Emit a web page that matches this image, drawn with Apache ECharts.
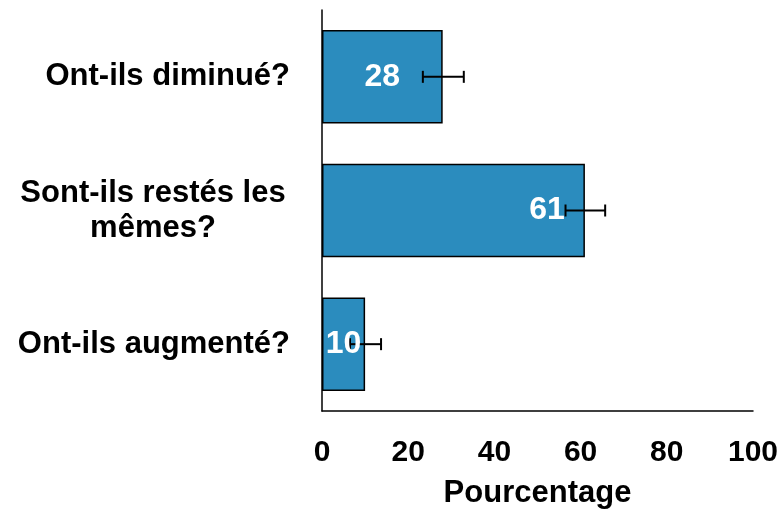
<!DOCTYPE html>
<html>
<head>
<meta charset="utf-8">
<script src="https://cdn.jsdelivr.net/npm/echarts@6/dist/echarts.min.js"></script>
<style>
  html, body { margin: 0; padding: 0; background: #fff; }
  #chart { width: 782px; height: 512px; }
</style>
</head>
<body>
<div id="chart"></div>
<script>
// categories (top to bottom)
var categories = ['Ont-ils diminué?', 'Sont-ils restés les\nmêmes?', 'Ont-ils augmenté?'];
// percentages
var values = [28, 61, 10];
// error bar ends
var errLow = [23.4, 56.5, 6.5];
var errHigh = [32.9, 65.7, 13.7];
// x tick values
var xTicks = [0, 20, 40, 60, 80, 100];

var font = '"Liberation Sans", Arial, sans-serif';
var barColor = '#2b8cbe';

var chart = echarts.init(document.getElementById('chart'));

var errData = categories.map(function (c, i) {
    return [i, errLow[i], errHigh[i]];
});

// labels: big bars get the label pushed to the right side
var labelData = values.map(function (v) {
    if (v > 50) {
        return { value: v, label: { position: 'insideRight', distance: 20 } };
    }
    return v;
});

var opt = {
    animation: false,
    grid: {
        left: 322,
        right: 29,
        top: 10,
        bottom: 101,
        outerBoundsMode: 'none'
    },
    xAxis: {
        type: 'value',
        min: xTicks[0],
        max: xTicks[xTicks.length - 1],
        interval: xTicks[1] - xTicks[0],
        name: 'Pourcentage',
        nameLocation: 'middle',
        nameGap: 67,
        nameTextStyle: { color: '#000', fontSize: 31, fontWeight: 'bold', fontFamily: font },
        axisLine: { show: true, lineStyle: { color: '#000', width: 1.5 } },
        axisTick: { show: false },
        splitLine: { show: false },
        axisLabel: { color: '#000', fontSize: 30, fontWeight: 'bold', fontFamily: font, margin: 27 }
    },
    yAxis: {
        type: 'category',
        inverse: true,
        data: categories,
        axisLine: { show: true, lineStyle: { color: '#000', width: 1.5 } },
        axisTick: { show: false },
        axisLabel: {
            color: '#000',
            fontSize: 31,
            fontWeight: 'bold',
            fontFamily: font,
            margin: 32,
            lineHeight: 35,
            formatter: function (v) {
                return v.indexOf('\n') >= 0 ? '{c|' + v + '}' : v;
            },
            rich: {
                c: {
                    width: 274,
                    align: 'center',
                    fontSize: 31,
                    fontWeight: 'bold',
                    fontFamily: font,
                    lineHeight: 35,
                    color: '#000'
                }
            }
        }
    },
    series: [
        {
            type: 'bar',
            data: values,
            barCategoryGap: '30%',
            itemStyle: { color: barColor, borderColor: '#000', borderWidth: 1.5 },
            z: 2
        },
        {
            type: 'custom',
            z: 3,
            encode: { x: [1, 2], y: 0 },
            data: errData,
            renderItem: function (params, api) {
                var lo = api.coord([api.value(1), api.value(0)]);
                var hi = api.coord([api.value(2), api.value(0)]);
                var h = 6;
                var st = { stroke: '#000', lineWidth: 2 };
                return {
                    type: 'group',
                    children: [
                        { type: 'line', shape: { x1: lo[0], y1: lo[1], x2: hi[0], y2: hi[1] }, style: st },
                        { type: 'line', shape: { x1: lo[0], y1: lo[1] - h, x2: lo[0], y2: lo[1] + h }, style: st },
                        { type: 'line', shape: { x1: hi[0], y1: hi[1] - h, x2: hi[0], y2: hi[1] + h }, style: st }
                    ]
                };
            }
        },
        {
            // transparent copy on top, only to carry the value labels
            type: 'bar',
            data: labelData,
            barGap: '-100%',
            barCategoryGap: '30%',
            silent: true,
            z: 4,
            itemStyle: { color: 'rgba(0,0,0,0)' },
            label: {
                show: true,
                position: 'inside',
                color: '#fff',
                fontSize: 32,
                fontWeight: 'bold',
                fontFamily: font
            }
        }
    ]
};
chart.setOption(opt);
</script>
</body>
</html>
